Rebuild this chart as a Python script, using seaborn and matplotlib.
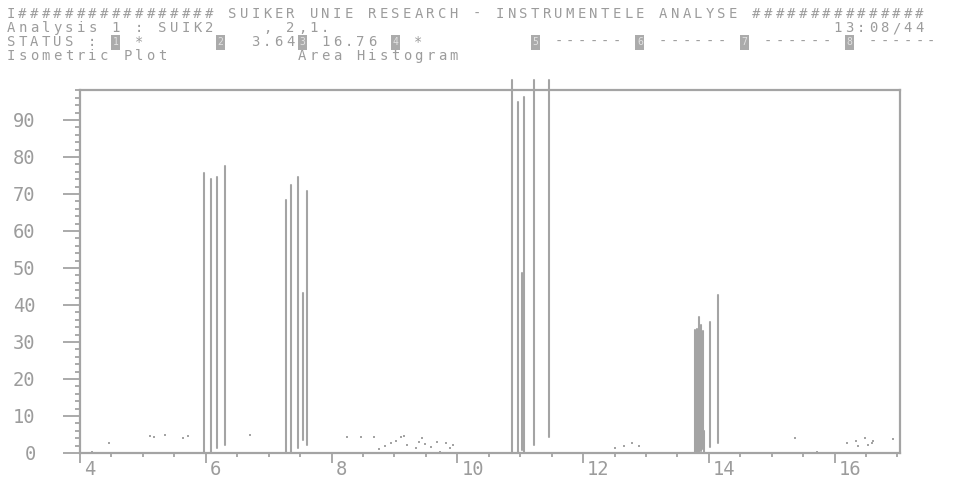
import numpy as np
import pandas as pd
import matplotlib
matplotlib.use("Agg")
import matplotlib.pyplot as plt
import matplotlib.transforms as mtransforms
from matplotlib.patches import Rectangle
from matplotlib.ticker import MultipleLocator, FixedLocator
import seaborn as sns

# ---------------- data ----------------
peak_rt = [5.97, 6.08, 6.18, 6.31,
           7.28, 7.35, 7.46, 7.55, 7.61,
           10.87, 10.96, 11.03, 11.06, 11.22, 11.46,
           13.78, 13.81, 13.84, 13.87, 13.90, 13.93, 14.02, 14.14]
peak_top = [75.7, 74.1, 74.6, 77.6,
            68.4, 72.4, 74.6, 43.2, 70.8,
            100.8, 94.9, 48.6, 96.2, 100.8, 100.8,
            33.2, 33.5, 36.8, 34.5, 33.0, 6.0, 35.4, 42.7]
peak_base = [0.0, 0.3, 1.4, 2.2,
             0.0, 0.3, 1.4, 3.5, 2.2,
             0.0, 0.0, 0.8, 0.3, 2.2, 4.3,
             0.0, 0.0, 0.0, 0.5, 1.0, 0.0, 1.6, 2.7]

noise_rt = [4.19, 4.46, 5.11, 5.18, 5.35, 5.64, 5.72, 6.70,
            8.24, 8.47, 8.67, 8.75, 8.85, 8.94, 9.02, 9.10, 9.15, 9.20, 9.34,
            9.39, 9.44, 9.48, 9.58, 9.68, 9.72, 9.82, 9.88, 9.93, 9.98,
            12.35, 12.51, 12.65, 12.78, 12.89,
            15.37, 15.72, 16.19, 16.24, 16.34, 16.38, 16.48, 16.53, 16.59,
            16.61, 16.73, 16.93]
noise_val = [0.3, 2.7, 4.6, 4.3, 4.9, 4.1, 4.6, 4.9,
             4.3, 4.3, 4.3, 1.1, 1.9, 2.7, 3.2, 4.3, 4.6, 2.2, 1.4,
             3.0, 4.1, 2.4, 1.6, 3.0, 0.3, 2.7, 1.4, 2.2, 0.0,
             0.0, 1.4, 1.9, 2.7, 1.9,
             4.1, 0.3, 2.7, 0.0, 3.2, 1.9, 4.1, 2.2, 2.7,
             3.2, 0.0, 3.8]

x_ticks = [4, 6, 8, 10, 12, 14, 16]
y_ticks = [0, 10, 20, 30, 40, 50, 60, 70, 80, 90]

# terminal header (80-column screen)
header_rows = [
    "I" + "#" * 17 + " SUIKER UNIE RESEARCH - INSTRUMENTELE ANALYSE " + "#" * 15,
    "Analysis 1 : SUIK2    , 2,1." + " " * 43 + "13:08/44",
    "STATUS : 1 *      2  3.643 16.76 4 *         5 ------ 6 ------ 7 ------ 8 ------",
    "Isometric Plot           Area Histogram",
]
status_box_cols = [9, 18, 25, 33, 45, 54, 63, 72]   # inverse-video status fields

# ---------------- styling ----------------
sns.set_theme(style="white")
plt.rcParams["font.family"] = ["DejaVu Sans Mono", "DejaVu Sans"]

GREY = "#a4a4a4"
TXT = "#9c9c9c"
W, H = 954, 479

fig = plt.figure(figsize=(W / 100, H / 100), dpi=100)
fig.patch.set_facecolor("white")
ax = fig.add_axes([80 / W, 26 / H, 820 / W, 363 / H])
ax.set_facecolor("white")

# peaks as vertical segments drawn through seaborn's lineplot
rows = []
for i, (x, b, t) in enumerate(zip(peak_rt, peak_base, peak_top)):
    rows.append({"rt": x, "h": b, "peak": i})
    rows.append({"rt": x, "h": t, "peak": i})
df_peaks = pd.DataFrame(rows)
sns.lineplot(data=df_peaks, x="rt", y="h", units="peak", estimator=None, sort=False,
             color=GREY, lw=1.5, ax=ax, legend=False)
for ln in ax.lines:
    ln.set_clip_on(False)

df_noise = pd.DataFrame({"rt": noise_rt, "h": noise_val})
sns.scatterplot(data=df_noise, x="rt", y="h", s=3, marker="s", color=GREY,
                linewidth=0, ax=ax, legend=False)

ax.set_xlim(4.0, 17.04)
ax.set_ylim(0, 98.1)
ax.set_xlabel("")
ax.set_ylabel("")

for sp in ax.spines.values():
    sp.set_color(GREY)
    sp.set_linewidth(1.6)
    sp.set_visible(True)

ax.xaxis.set_major_locator(FixedLocator(x_ticks))
ax.xaxis.set_minor_locator(MultipleLocator(0.5))
ax.yaxis.set_major_locator(FixedLocator(y_ticks))
ax.yaxis.set_minor_locator(MultipleLocator(2))
ax.set_xticklabels([str(v) for v in x_ticks])
ax.set_yticklabels([str(v) for v in y_ticks])

ax.tick_params(axis="x", which="major", direction="out", length=7, width=1.3,
               color=GREY, labelcolor=TXT, labelsize=13.5, pad=-2, bottom=True)
ax.tick_params(axis="x", which="minor", direction="out", length=3, width=1.3,
               color=GREY, bottom=True)
ax.tick_params(axis="y", which="major", direction="out", length=12, width=1.3,
               color=GREY, labelcolor=TXT, labelsize=13.5, pad=20, left=True)
ax.tick_params(axis="y", which="minor", direction="out", length=3.5, width=1.3,
               color=GREY, left=True)

offset = mtransforms.ScaledTranslation(4 / 100, 0, fig.dpi_scale_trans)
for lab in ax.get_xticklabels():
    lab.set_horizontalalignment("left")
    lab.set_transform(lab.get_transform() + offset)

# ---------------- header: fixed 80-column character grid ----------------
CELL = 11.65      # pixels per character cell
X0 = 5
ROW_Y = [14, 28, 42, 56]

for r, (line, ypix) in enumerate(zip(header_rows, ROW_Y)):
    for c, ch in enumerate(line):
        if ch == " ":
            continue
        xc = X0 + c * CELL + CELL / 2
        if r == 2 and c in status_box_cols:
            fig.add_artist(Rectangle(((xc - 4.5) / W, 1 - (ypix + 7.5) / H), 9 / W, 15 / H,
                                     transform=fig.transFigure, facecolor="#ababab",
                                     edgecolor="none"))
            fig.text(xc / W, 1 - ypix / H, ch, ha="center", va="center", fontsize=7,
                     color="#e2e2e2", family=["DejaVu Sans Mono"])
        else:
            fig.text(xc / W, 1 - ypix / H, ch, ha="center", va="center", fontsize=10,
                     color=TXT, family=["DejaVu Sans Mono", "DejaVu Sans"])

fig.savefig("out.png", dpi=100, facecolor="white")
